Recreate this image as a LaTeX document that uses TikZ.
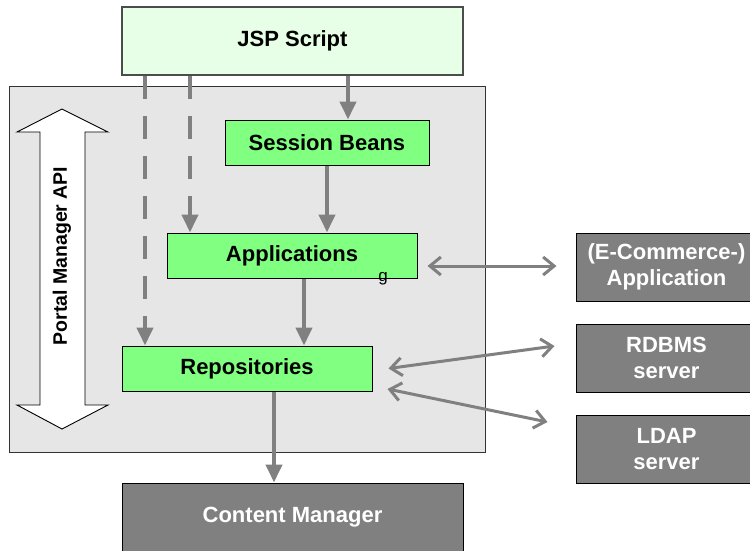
\documentclass[tikz,border=0pt]{standalone}
\usepackage{fontspec}
\setmainfont{Liberation Sans}
\usetikzlibrary{arrows.meta}

\definecolor{jspfill}{RGB}{230,255,230}
\definecolor{beanfill}{RGB}{128,255,128}
\definecolor{apifill}{RGB}{230,230,230}
\definecolor{extfill}{RGB}{128,128,128}
\definecolor{flowgray}{RGB}{128,128,128}

\begin{document}
\begin{tikzpicture}[x=1pt,y=-1pt,
  box/.style={shape=rectangle,draw=black,line width=1pt,align=center,inner sep=0pt,
    font=\fontsize{22}{26}\selectfont\bfseries},
  inner/.style={box,fill=beanfill,minimum height=45pt},
  outer/.style={box,fill=extfill,text=white,minimum width=181pt,minimum height=68pt},
  flow/.style={draw=flowgray,line width=4pt,-{Triangle[width=16pt,length=18pt]}},
  call/.style={flow,dash pattern=on 23pt off 17pt},
  link/.style={draw=flowgray,line width=3pt,
    {Straight Barb[length=11pt,width=18pt]}-{Straight Barb[length=11pt,width=18pt]}}]
  \clip (0,0) rectangle (750,550);

  % portal manager area
  \node[shape=rectangle,draw=black!80,fill=apifill,line width=1pt,minimum width=476pt,minimum height=366pt] (panel) at (247,269) {};
  \draw[fill=white,line width=0.9pt] (62,109) -- (108,132) -- (85,132) -- (85,405) -- (108,405)
    -- (62,429) -- (17,405) -- (40,405) -- (40,132) -- (17,132) -- cycle;
  \node[rotate=90,font=\fontsize{19.5}{22}\selectfont\bfseries] (api) at (62,256) {Portal Manager API};

  % boxes
  \node[box,fill=jspfill,draw=black!70,line width=2pt,minimum width=341pt,minimum height=68pt] (jsp) at (292.5,41) {JSP Script};
  \node[inner,minimum width=204pt] (sb) at (327,142.5) {Session Beans};
  \node[inner,minimum width=250pt] (apps) at (292,255.5) {Applications};
  \node[inner,minimum width=250pt] (repo) at (247,368.5) {Repositories};
  \node[outer,minimum width=341pt] (cm) at (292.5,517) {Content Manager};
  \node[outer] (ecom) at (666.5,267) {(E-Commerce-)\\Application};
  \node[outer] (rdbms) at (666.5,358) {RDBMS\\server};
  \node[outer] (ldap) at (666.5,449) {LDAP\\server};
  \node[font=\fontsize{17}{20}\selectfont] (mark) at (383,279) {g};

  % calls down the stack
  \draw[flow] ([xshift=21pt]sb.north |- jsp.south) -- ([xshift=21pt]sb.north);
  \draw[flow] (sb.south) -- (sb.south |- apps.north);
  \draw[flow] ([xshift=12pt]apps.south) -- ([xshift=12pt]apps.south |- repo.north);
  \draw[flow] ([xshift=27pt]repo.south) -- ([xshift=27pt]repo.south |- cm.north);
  \draw[call] ([xshift=-147.5pt]jsp.south) -- ([xshift=-147.5pt]jsp.south |- repo.north);
  \draw[call] ([xshift=-102.5pt]jsp.south) -- ([xshift=-102.5pt]jsp.south |- apps.north);

  % external systems
  \draw[link] ([shift={(10,10.5)}]apps.east) -- ([shift={(-19,-1)}]ecom.west);
  \draw[link] ([shift={(16,0)}]repo.east) -- ([shift={(-21,-12)}]rdbms.west);
  \draw[link] ([shift={(15,20.5)}]repo.east) -- ([shift={(-28,-27)}]ldap.west);
\end{tikzpicture}
\end{document}
